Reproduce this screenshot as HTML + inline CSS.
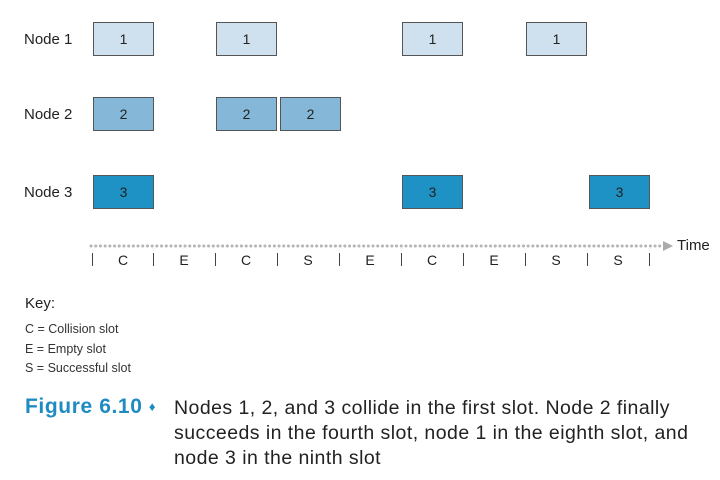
<!DOCTYPE html>
<html><head><style>
body{margin:0;width:720px;height:480px;background:#fff;position:relative;font-family:"Liberation Sans",sans-serif;overflow:hidden}
.t{position:absolute;white-space:nowrap}
.b{position:absolute;width:59px;height:32px;border:1.5px solid #555;font-size:14px;color:#222;text-align:center;line-height:32px;box-sizing:content-box}
.n1{background:#cfe0ef}.n2{background:#85b8d8}.n3{background:#1e92c4}
.tk{position:absolute;top:253px;width:1px;height:13px;background:#444}
.sl{position:absolute;top:252px;font-size:14px;color:#222;width:20px;text-align:center}
</style></head><body>
<div class="t" style="left:24px;top:31px;font-size:15px;color:#222">Node 1</div>
<div class="t" style="left:24px;top:106px;font-size:15px;color:#222">Node 2</div>
<div class="t" style="left:24px;top:184px;font-size:15px;color:#222">Node 3</div>

<div class="b n1" style="left:93px;top:22px">1</div>
<div class="b n1" style="left:216px;top:22px">1</div>
<div class="b n1" style="left:402px;top:22px">1</div>
<div class="b n1" style="left:526px;top:22px">1</div>

<div class="b n2" style="left:93px;top:97px">2</div>
<div class="b n2" style="left:216px;top:97px">2</div>
<div class="b n2" style="left:280px;top:97px">2</div>

<div class="b n3" style="left:93px;top:175px">3</div>
<div class="b n3" style="left:402px;top:175px">3</div>
<div class="b n3" style="left:589px;top:175px">3</div>

<svg style="position:absolute;left:0;top:0" width="720" height="480">
<line x1="91" y1="246" x2="660" y2="246" stroke="#b5b5b5" stroke-width="3" stroke-dasharray="0.1 4.6" stroke-linecap="round"/>
<polygon points="663,241 673,246 663,251" fill="#aaa"/>
</svg>
<div class="t" style="left:677px;top:237px;font-size:15px;color:#222">Time</div>

<div class="tk" style="left:92px"></div><div class="tk" style="left:153px"></div><div class="tk" style="left:215px"></div><div class="tk" style="left:277px"></div><div class="tk" style="left:339px"></div><div class="tk" style="left:401px"></div><div class="tk" style="left:463px"></div><div class="tk" style="left:525px"></div><div class="tk" style="left:587px"></div><div class="tk" style="left:649px"></div>
<div class="sl" style="left:113px">C</div><div class="sl" style="left:174px">E</div><div class="sl" style="left:236px">C</div><div class="sl" style="left:298px">S</div><div class="sl" style="left:360px">E</div><div class="sl" style="left:422px">C</div><div class="sl" style="left:484px">E</div><div class="sl" style="left:546px">S</div><div class="sl" style="left:608px">S</div>

<div class="t" style="left:25px;top:295px;font-size:15px;color:#222">Key:</div>
<div class="t" style="left:25px;top:322px;font-size:12.5px;color:#333">C = Collision slot</div>
<div class="t" style="left:25px;top:342px;font-size:12.5px;color:#333">E = Empty slot</div>
<div class="t" style="left:25px;top:361px;font-size:12.5px;color:#333">S = Successful slot</div>

<div class="t" style="left:25px;top:395px;font-size:21px;font-weight:bold;letter-spacing:0.6px;color:#1e8cc0">Figure 6.10 <span style="font-size:13px;position:relative;top:-2px">&#9830;</span></div>
<div class="t" style="left:174px;top:396px;font-size:19.5px;letter-spacing:0.45px;line-height:25px;color:#222">Nodes 1, 2, and 3 collide in the first slot. Node 2 finally<br>succeeds in the fourth slot, node 1 in the eighth slot, and<br>node 3 in the ninth slot</div>
</body></html>
